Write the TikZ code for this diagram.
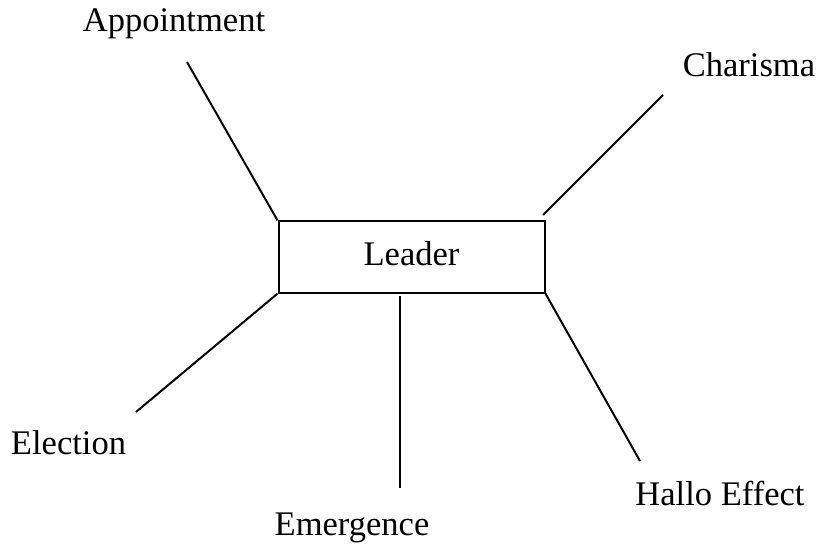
\documentclass[tikz,border=0pt]{standalone}
\usepackage{fontspec}
\setmainfont{Liberation Serif}
\begin{document}
\begin{tikzpicture}[x=0.75pt,y=-0.75pt,
  lbl/.style={font=\fontsize{25.9}{30}\selectfont, inner sep=0pt, anchor=base},
  conn/.style={line width=1.5pt},
  boxst/.style={draw, line width=1.5pt, inner sep=0pt, minimum width=199.5pt, minimum height=53.5pt,
     font=\fontsize{25.9}{30}\selectfont, text height=18pt, text depth=5pt}]
\useasboundingbox (0,0) rectangle (818,545);
\node[boxst] (leader) at (411.5,257) {Leader};
\node[lbl] (appt) at (174,32) {Appointment};
\node[lbl] (char) at (749,77) {Charisma};
\node[lbl] (elec) at (68.5,455) {Election};
\node[lbl] (emer) at (352,535) {Emergence};
\node[lbl] (hallo) at (720,505) {Hallo Effect};
\coordinate (a1) at (187,62);
\coordinate (c1) at (663,95);
\coordinate (c2) at (543,215);
\coordinate (e1) at (136,412);
\coordinate (m1) at (400,296);
\coordinate (m2) at (400,488);
\coordinate (h1) at (640,461);
\draw[conn] (a1) -- (leader.north west);
\draw[conn] (c1) -- (c2);
\draw[conn] (leader.south west) -- (e1);
\draw[conn] (m1) -- (m2);
\draw[conn] (leader.south east) -- (h1);
\end{tikzpicture}
\end{document}
